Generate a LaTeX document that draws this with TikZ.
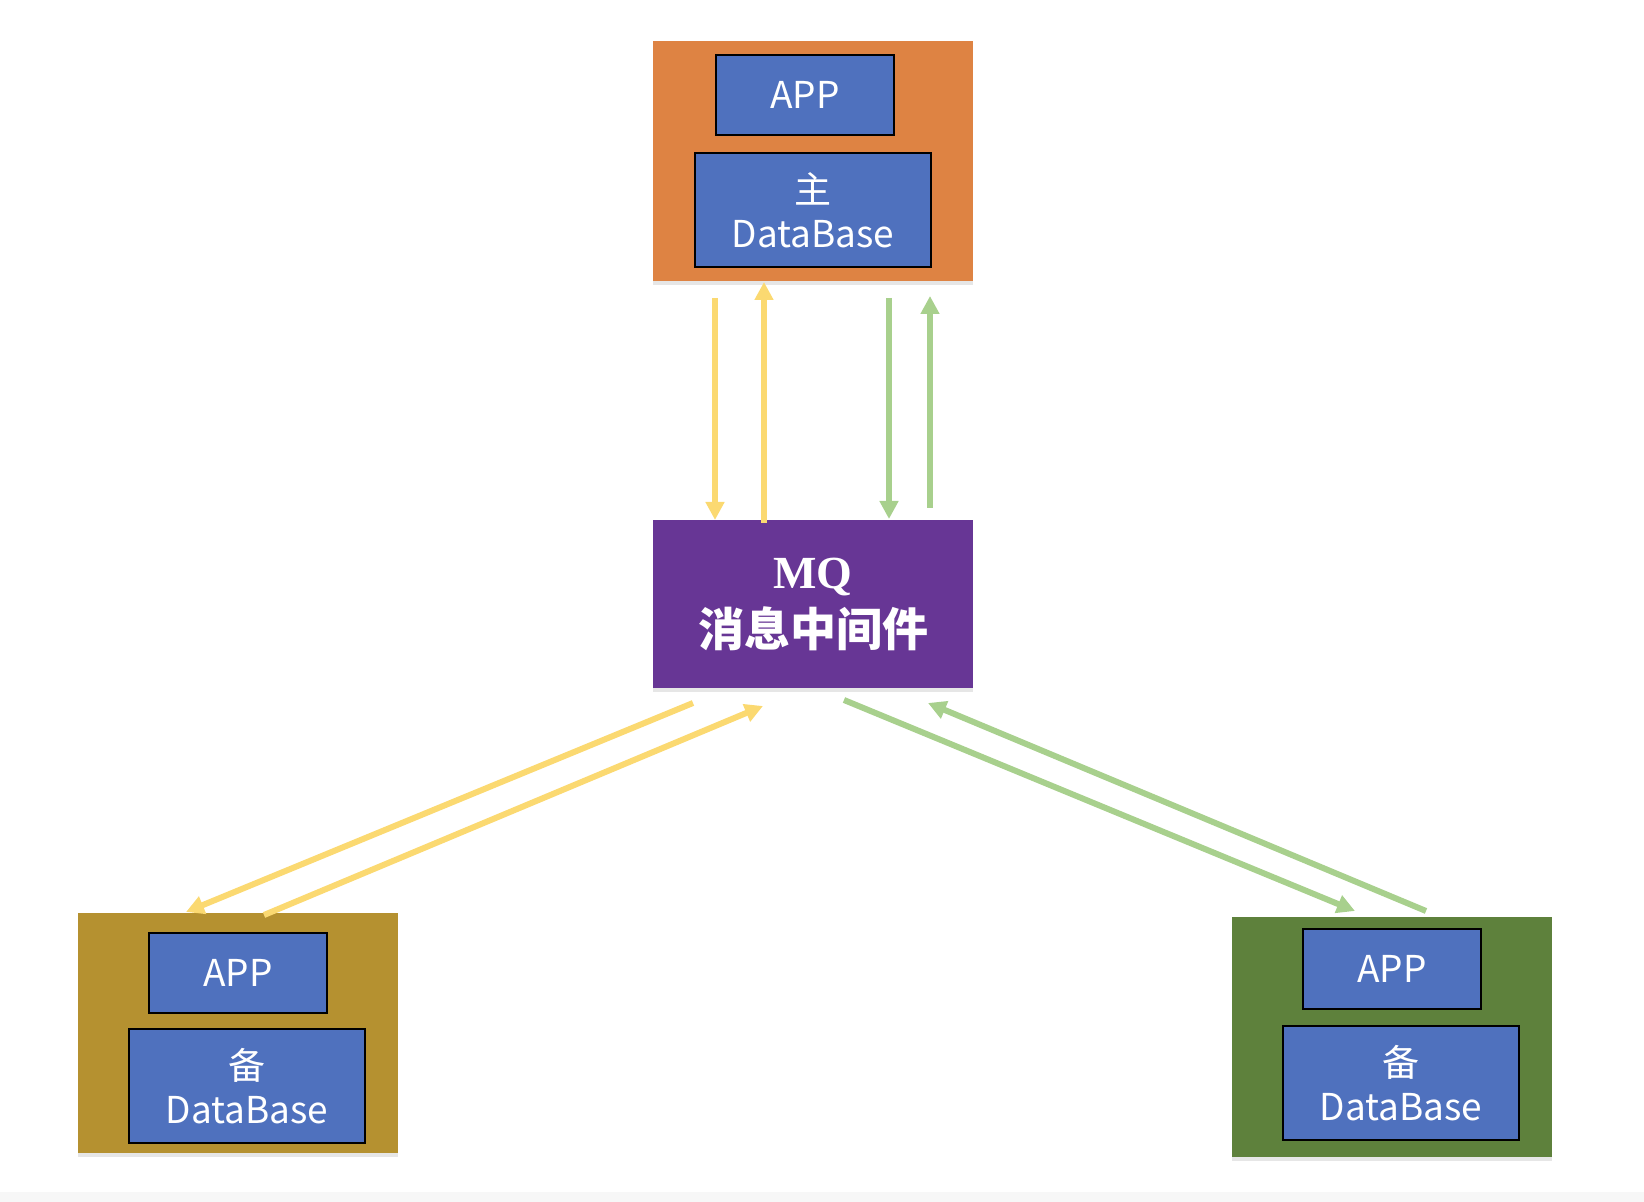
\documentclass[tikz,border=0pt]{standalone}
\usepackage{fontspec}
\setmainfont{Noto Sans CJK SC}
\newfontfamily\mqfont{Liberation Serif}
\usetikzlibrary{arrows.meta,shadows}
\definecolor{mainorange}{HTML}{DE8343}
\definecolor{appblue}{HTML}{4F71BE}
\definecolor{mqpurple}{HTML}{673695}
\definecolor{backolive}{HTML}{B59130}
\definecolor{backgreen}{HTML}{5E813C}
\definecolor{flowyellow}{HTML}{FBD971}
\definecolor{flowgreen}{HTML}{A8D08D}
\begin{document}
\begin{tikzpicture}[x=0.5pt,y=-0.5pt,
					hostbox/.style={rectangle,
					minimum width=160pt,
					minimum height=120pt,
					drop shadow={opacity=0.2,shadow xshift=0pt,shadow yshift=-2pt}},
					appbox/.style={rectangle,
					draw=black, thick,
					fill=appblue,
					text=white,
					font=\fontsize{18.5}{21}\selectfont,
					minimum width=89pt,
					minimum height=40pt},
					dbbox/.style={appbox,
					minimum width=118pt,
					minimum height=57pt,
					align=center,
					font=\fontsize{18.5}{22}\selectfont},
					yellowflow/.style={draw=flowyellow, line width=3pt, -{Triangle[length=9pt,width=9pt]}},
					greenflow/.style={draw=flowgreen, line width=3pt, -{Triangle[length=9pt,width=9pt]}}
					]
\useasboundingbox (0,0) rectangle (1644,1202);
\fill[gray!6] (0,1192) rectangle (1644,1202);

%top node
\node[hostbox, fill=mainorange] (Main) at (813,161) {};
\node[appbox] (MainApp) at (805,95) {APP};
\node[dbbox] (MainDB) at (813,210) {主\\DataBase};

%middle node
\node[hostbox, fill=mqpurple, minimum height=84pt, text=white, align=center,
      font=\fontsize{23}{29}\selectfont\bfseries] (MQ) at (813,604) {{\mqfont MQ}\\消息中间件};

%bottom nodes
\node[hostbox, fill=backolive] (BackL) at (238,1033) {};
\node[appbox] (BackLApp) at (238,973) {APP};
\node[dbbox] (BackLDB) at (247,1086) {备\\DataBase};

\node[hostbox, fill=backgreen] (BackR) at (1392,1037) {};
\node[appbox] (BackRApp) at (1392,969) {APP};
\node[dbbox] (BackRDB) at (1401,1083) {备\\DataBase};

% arrow ends
\coordinate (a1) at (715,298);   \coordinate (a2) at (715,520);
\coordinate (b1) at (764,523);   \coordinate (b2) at (764,282);
\coordinate (c1) at (889,298);   \coordinate (c2) at (889,519);
\coordinate (d1) at (930,508);   \coordinate (d2) at (930,296);
\coordinate (e1) at (693,703);   \coordinate (e2) at (186,912);
\coordinate (f1) at (264,915);   \coordinate (f2) at (763,706);
\coordinate (g1) at (844,700);   \coordinate (g2) at (1355,911);
\coordinate (h1) at (1426,911);  \coordinate (h2) at (928,703);

% Arrows
\draw[yellowflow] (a1) -- (a2);
\draw[yellowflow] (b1) -- (b2);
\draw[greenflow] (c1) -- (c2);
\draw[greenflow] (d1) -- (d2);
\draw[yellowflow] (e1) -- (e2);
\draw[yellowflow] (f1) -- (f2);
\draw[greenflow] (g1) -- (g2);
\draw[greenflow] (h1) -- (h2);

\end{tikzpicture}
\end{document}
